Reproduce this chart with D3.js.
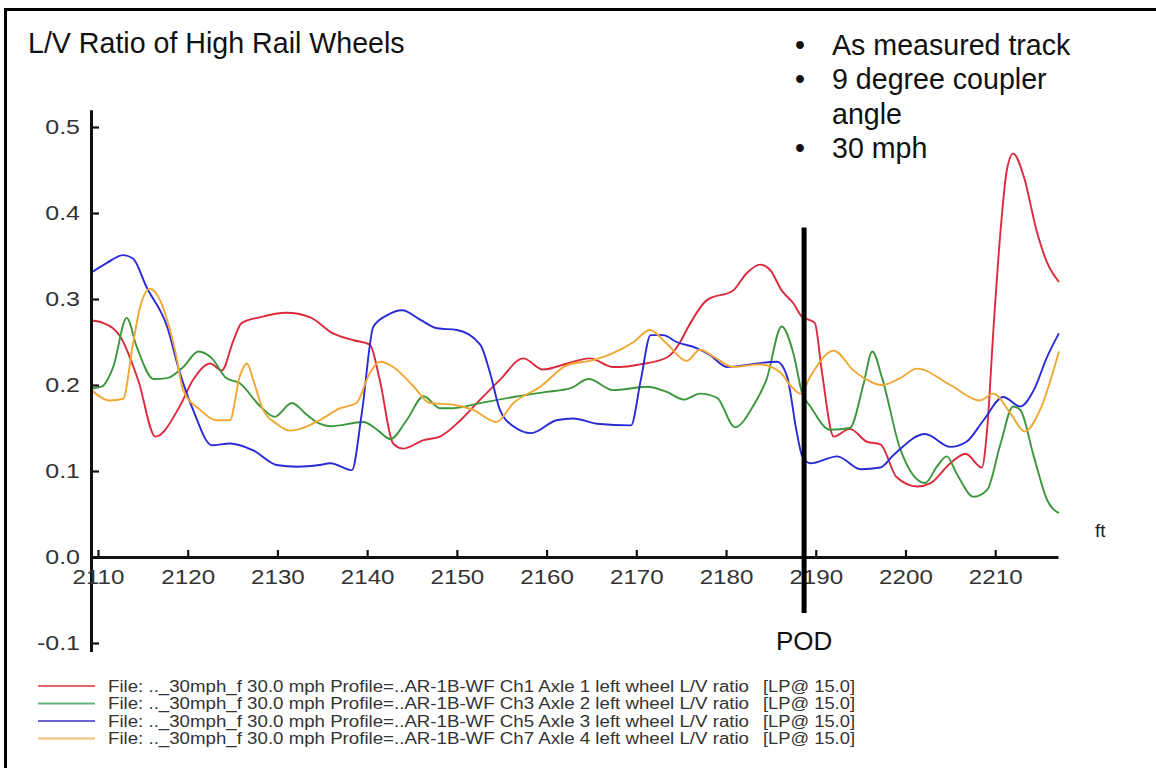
<!DOCTYPE html>
<html>
<head>
<meta charset="utf-8">
<script src="https://cdn.jsdelivr.net/npm/d3@7"></script>
<style>
  html, body { margin: 0; padding: 0; background: #ffffff; }
  svg { display: block; font-family: "Liberation Sans", Arial, sans-serif; }
</style>
</head>
<body>
<svg id="chart" width="1156" height="768"></svg>
<script>
// ---------------- data ----------------
const titleText = "L/V Ratio of High Rail Wheels";
const bulletLines = [["•", "As measured track"], ["•", "9 degree coupler"], ["", "angle"], ["•", "30 mph"]];
const xTicks = [2110, 2120, 2130, 2140, 2150, 2160, 2170, 2180, 2190, 2200, 2210];
const yTicks = [-0.1, 0.0, 0.1, 0.2, 0.3, 0.4, 0.5];
const xUnit = "ft";
const podLabel = "POD";
const podFt = 2188.7;
const podRange = [-0.065, 0.383];

const seriesNames = [
  "File: .._30mph_f 30.0 mph Profile=..AR-1B-WF Ch1 Axle 1 left wheel L/V ratio",
  "File: .._30mph_f 30.0 mph Profile=..AR-1B-WF Ch3 Axle 2 left wheel L/V ratio",
  "File: .._30mph_f 30.0 mph Profile=..AR-1B-WF Ch5 Axle 3 left wheel L/V ratio",
  "File: .._30mph_f 30.0 mph Profile=..AR-1B-WF Ch7 Axle 4 left wheel L/V ratio"
];
const seriesSuffix = "[LP@ 15.0]";
const seriesColors = ["#dc2a3c", "#3c963c", "#2a2ad6", "#f0a832"];
const legendColors = ["#e8606a", "#62b478", "#6a62d8", "#f7bd78"];

// [ft, L/V]
const ch1 = [[2109.3,0.275],[2110.6,0.272],[2112.5,0.256],[2114.5,0.205],[2116.4,0.140],[2119.1,0.175],[2120.6,0.206],
  [2122.5,0.225],[2123.8,0.217],[2125.1,0.252],[2126.0,0.272],[2128.1,0.279],[2131.0,0.284],[2133.6,0.279],[2136.2,0.260],
  [2138.5,0.252],[2140.3,0.247],[2141.4,0.206],[2142.9,0.132],[2144.0,0.126],[2146.3,0.136],[2148.1,0.140],[2150.4,0.159],
  [2152.6,0.183],[2154.8,0.206],[2157.4,0.231],[2159.6,0.218],[2162.3,0.225],[2164.8,0.231],[2167.4,0.221],[2168.2,0.221],
  [2170.4,0.224],[2173.4,0.232],[2174.9,0.250],[2175.6,0.264],[2177.9,0.299],[2180.8,0.310],[2182.3,0.330],[2183.8,0.340],
  [2184.9,0.334],[2186.2,0.310],[2187.5,0.295],[2188.5,0.279],[2189.2,0.276],[2189.9,0.272],[2190.7,0.214],[2192.0,0.140],
  [2193.8,0.149],[2195.7,0.134],[2197.2,0.131],[2199.0,0.093],[2201.3,0.082],[2202.8,0.086],[2205.0,0.109],[2206.7,0.120],
  [2208.5,0.104],[2209.1,0.148],[2209.8,0.264],[2210.6,0.380],[2211.3,0.450],[2212.0,0.469],[2213.2,0.442],[2214.6,0.380],
  [2215.8,0.342],[2217.1,0.320]];

const ch3 = [[2109.3,0.196],[2110.4,0.198],[2111.7,0.221],[2113.2,0.278],[2114.3,0.245],[2116.2,0.207],[2117.7,0.208],
  [2119.5,0.221],[2121.2,0.239],[2122.7,0.231],[2124.3,0.208],[2125.8,0.202],[2128.1,0.175],[2129.7,0.163],[2131.6,0.179],
  [2133.3,0.165],[2134.7,0.155],[2135.9,0.152],[2139.6,0.157],[2141.1,0.148],[2142.6,0.137],[2144.4,0.159],[2146.3,0.187],
  [2148.1,0.173],[2149.6,0.173],[2152.6,0.179],[2156.3,0.186],[2160.0,0.192],[2162.6,0.196],[2164.7,0.207],[2167.4,0.194],
  [2171.2,0.198],[2173.4,0.192],[2175.3,0.183],[2177.1,0.190],[2179.0,0.185],[2181.0,0.151],[2183.1,0.177],[2184.5,0.206],
  [2186.2,0.268],[2187.5,0.237],[2188.5,0.190],[2189.4,0.175],[2191.6,0.148],[2193.8,0.150],[2195.3,0.200],[2196.3,0.239],
  [2197.4,0.208],[2199.4,0.126],[2202.2,0.086],[2203.5,0.105],[2204.6,0.117],[2205.7,0.097],[2207.6,0.070],[2209.1,0.078],
  [2210.6,0.132],[2212.0,0.175],[2212.8,0.171],[2214.3,0.117],[2215.8,0.066],[2217.1,0.051]];

const ch5 = [[2109.3,0.331],[2111.0,0.342],[2112.8,0.351],[2113.9,0.347],[2115.4,0.314],[2117.7,0.268],[2119.1,0.215],
  [2120.6,0.171],[2122.7,0.130],[2124.7,0.132],[2127.3,0.124],[2129.9,0.107],[2132.2,0.105],[2134.7,0.107],[2135.9,0.109],
  [2138.3,0.101],[2139.4,0.167],[2140.7,0.268],[2142.2,0.281],[2143.9,0.287],[2145.9,0.276],[2147.8,0.266],[2150.0,0.264],
  [2152.6,0.247],[2153.7,0.214],[2154.8,0.171],[2156.3,0.152],[2158.3,0.144],[2161.1,0.159],[2163.0,0.161],[2165.6,0.155],
  [2169.4,0.153],[2170.5,0.206],[2171.6,0.258],[2173.0,0.258],[2174.5,0.250],[2176.7,0.243],[2178.2,0.235],[2180.1,0.221],
  [2182.7,0.224],[2184.2,0.226],[2185.7,0.227],[2186.8,0.210],[2187.9,0.144],[2188.5,0.117],[2189.4,0.109],[2192.4,0.117],
  [2195.0,0.102],[2197.2,0.104],[2198.7,0.119],[2202.2,0.143],[2205.0,0.128],[2206.8,0.134],[2208.7,0.159],[2210.9,0.186],
  [2212.8,0.175],[2214.3,0.194],[2215.8,0.233],[2217.1,0.260]];

const ch7 = [[2109.3,0.194],[2111.3,0.182],[2112.8,0.184],[2113.9,0.248],[2114.7,0.291],[2115.8,0.312],[2116.9,0.299],
  [2118.0,0.265],[2118.6,0.240],[2119.5,0.194],[2121.4,0.171],[2123.2,0.159],[2124.7,0.159],[2125.8,0.210],[2126.6,0.225],
  [2127.3,0.206],[2128.4,0.171],[2129.9,0.155],[2131.4,0.147],[2133.3,0.152],[2134.7,0.159],[2137.0,0.173],[2138.8,0.179],
  [2140.3,0.214],[2141.4,0.227],[2142.9,0.221],[2145.2,0.198],[2147.0,0.179],[2149.6,0.177],[2151.8,0.171],[2154.4,0.157],
  [2156.3,0.179],[2159.3,0.198],[2162.3,0.223],[2165.2,0.229],[2167.4,0.237],[2169.7,0.250],[2171.5,0.264],[2173.4,0.248],
  [2175.6,0.228],[2177.1,0.241],[2178.6,0.233],[2180.8,0.221],[2183.8,0.224],[2186.0,0.215],[2187.3,0.198],[2188.3,0.190],
  [2189.4,0.210],[2192.0,0.240],[2194.2,0.217],[2195.7,0.206],[2197.4,0.200],[2199.4,0.208],[2201.3,0.219],[2205.0,0.200],
  [2208.3,0.182],[2209.8,0.190],[2211.7,0.167],[2213.3,0.146],[2215.0,0.171],[2217.1,0.239]];

const allSeries = [ch1, ch3, ch5, ch7];

// ---------------- drawing ----------------
const svg = d3.select("#chart");
const FONT = '"Liberation Sans", Arial, sans-serif';

// frame (top and left border)
svg.append("line").attr("x1", 4).attr("x2", 1156).attr("y1", 9.5).attr("y2", 9.5)
  .attr("stroke", "#000").attr("stroke-width", 3);
svg.append("line").attr("x1", 5.5).attr("x2", 5.5).attr("y1", 8).attr("y2", 768)
  .attr("stroke", "#000").attr("stroke-width", 3);

// title
svg.append("text").attr("x", 28).attr("y", 53).attr("font-size", 28.6).attr("fill", "#111")
  .text(titleText);

// bullets
const bullets = svg.append("g").attr("font-size", 28.6).attr("fill", "#111");
bulletLines.forEach((b, i) => {
  const by = 55 + i * 34.3;
  if (b[0]) bullets.append("text").attr("x", 795).attr("y", by).text(b[0]);
  bullets.append("text").attr("x", 832).attr("y", by).text(b[1]);
});

// scales
const x = d3.scaleLinear().domain([2109.22, 2217.0]).range([91, 1058]);
const y = d3.scaleLinear().domain([-0.11, 0.52]).range([557 + 0.11 * 860, 557 - 0.52 * 860]);

// curves
const line = d3.line().x(d => x(d[0])).y(d => y(d[1])).curve(d3.curveMonotoneX);
const curves = svg.append("g");
allSeries.forEach((s, i) => {
  curves.append("path").datum(s).attr("d", line)
    .attr("fill", "none").attr("stroke", seriesColors[i]).attr("stroke-width", 1.9)
    .attr("stroke-linejoin", "round");
});

function stretch(sel, k) {
  sel.each(function () {
    const len = this.getComputedTextLength();
    d3.select(this).attr("textLength", len * k).attr("lengthAdjust", "spacingAndGlyphs");
  });
}

// y axis
const yAxis = d3.axisLeft(y).tickValues(yTicks).tickSizeInner(-8).tickSizeOuter(0).tickPadding(11)
  .tickFormat(d => d.toFixed(1));
const gy = svg.append("g").attr("transform", `translate(${x.range()[0]},0)`).call(yAxis);
gy.select(".domain").attr("stroke", "#111").attr("stroke-width", 3);
gy.selectAll(".tick line").attr("stroke", "#111").attr("stroke-width", 2.2);
gy.selectAll(".tick text").attr("font-size", 20).attr("font-family", FONT).attr("fill", "#333");
stretch(gy.selectAll(".tick text"), 1.25);

// x axis
const xAxis = d3.axisBottom(x).tickValues(xTicks).tickSizeInner(-7).tickSizeOuter(0).tickPadding(12)
  .tickFormat(d3.format("d"));
const gx = svg.append("g").attr("transform", `translate(0,${y(0)})`).call(xAxis);
gx.select(".domain").attr("stroke", "#111").attr("stroke-width", 3);
gx.selectAll(".tick line").attr("stroke", "#111").attr("stroke-width", 2.2);
gx.selectAll(".tick text").attr("font-size", 21).attr("font-family", FONT).attr("fill", "#333");
stretch(gx.selectAll(".tick text"), 1.15);

// unit
svg.append("text").attr("x", 1095).attr("y", 537).attr("font-size", 19).attr("fill", "#222").text(xUnit);

// POD marker
svg.append("line").attr("x1", x(podFt)).attr("x2", x(podFt))
  .attr("y1", y(podRange[1])).attr("y2", y(podRange[0]))
  .attr("stroke", "#000").attr("stroke-width", 5);
svg.append("text").attr("x", x(podFt)).attr("y", 650).attr("text-anchor", "middle")
  .attr("font-size", 26).attr("fill", "#111").text(podLabel);

// legend
const legend = svg.append("g");
seriesNames.forEach((name, i) => {
  const ly = 686 + i * 17.5;
  legend.append("line").attr("x1", 38).attr("x2", 95).attr("y1", ly).attr("y2", ly)
    .attr("stroke", legendColors[i]).attr("stroke-width", 2);
  legend.append("text").attr("x", 108).attr("y", ly + 5.5).attr("font-size", 16).attr("fill", "#333")
    .attr("textLength", 641).attr("lengthAdjust", "spacingAndGlyphs").text(name);
  legend.append("text").attr("x", 763).attr("y", ly + 5.5).attr("font-size", 16).attr("fill", "#333")
    .attr("textLength", 92).attr("lengthAdjust", "spacingAndGlyphs").text(seriesSuffix);
});
</script>
</body>
</html>
